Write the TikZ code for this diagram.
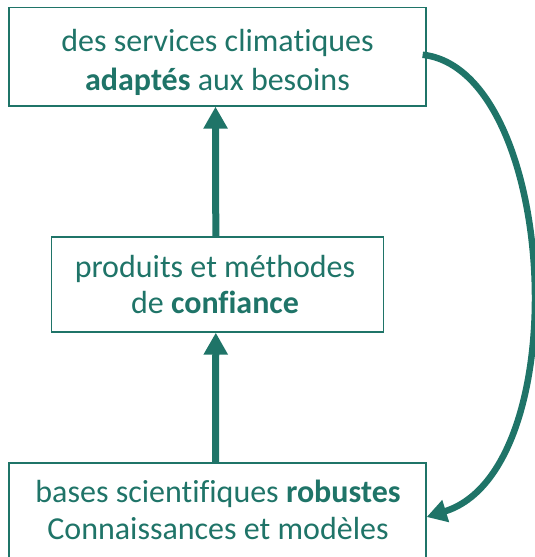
\documentclass[tikz,border=0pt]{standalone}
\usepackage{fontspec}
\setmainfont{Carlito}[Ligatures=NoCommon,RawFeature={-liga;-clig;-calt}]
\usetikzlibrary{arrows.meta}
\definecolor{teal1}{RGB}{31,116,104}
\begin{document}
\begin{tikzpicture}[x=1pt,y=-1pt,
  box/.style={draw=teal1,line width=1.3pt,rectangle,inner sep=0pt},
  lbl/.style={text=teal1,align=center,inner sep=0pt},
  arr/.style={draw=teal1,line width=7pt,-{Triangle[length=22pt,width=23pt]}},
  carr/.style={draw=teal1,line width=6.5pt,-{Triangle[length=20pt,width=22pt]}}]
\useasboundingbox (0,0) rectangle (535,557);
\node[box,minimum width=417pt,minimum height=98.5pt] (top) at (217.5,56.75) {};
\node[box,minimum width=332pt,minimum height=95pt] (mid) at (217.8,284.5) {};
\node[box,minimum width=417pt,minimum height=108pt] (bot) at (217.5,517) {};
\node[lbl,font=\fontsize{32}{39}\selectfont] (toptext) at (217.5,62.5) {des services climatiques\\\textbf{adaptés} aux besoins};
\node[lbl,font=\fontsize{32}{36}\selectfont] (midtext) at (215,284.8) {produits et méthodes\\de \textbf{confiance}};
\node[lbl,font=\fontsize{32}{37}\selectfont] (bottext) at (218,510.3) {bases scientifiques \textbf{robustes}\\Connaissances et modèles};
\draw[arr] ([xshift=-2pt]mid.north) -- ([xshift=-2pt]top.south);
\draw[arr] ([xshift=-2pt]bot.north) -- ([xshift=-2pt]mid.south);
\draw[carr] ([yshift=2pt,xshift=-4pt]top.east) .. controls (558,70) and (578,470) .. (bot.east);
\end{tikzpicture}
\end{document}
